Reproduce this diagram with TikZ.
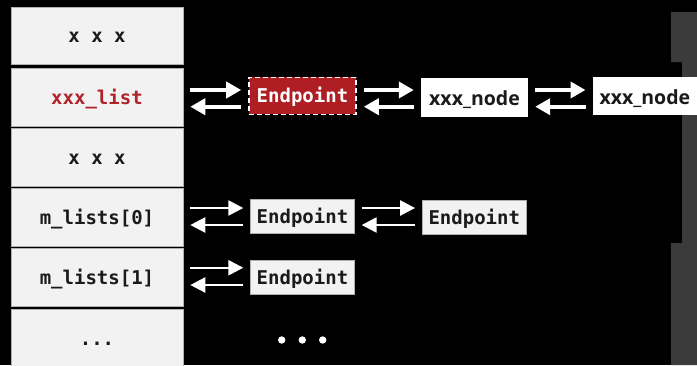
\documentclass[tikz,border=0pt]{standalone}
\usepackage{fontspec}
\setmonofont{DejaVu Sans Mono}
\newfontfamily\labelsans{Open Sans}
\usetikzlibrary{arrows.meta,calc}

\definecolor{cellfill}{HTML}{F2F2F2}
\definecolor{cellline}{HTML}{B0B0B0}
\definecolor{listred}{HTML}{B0232A}
\definecolor{epred}{HTML}{AE1E23}
\definecolor{sidebar}{HTML}{3B3B3B}
\definecolor{ink}{HTML}{1A1A1A}

% two opposite arrows between neighbouring nodes
% #1 source, #2 target, #3 upper offset, #4 lower offset, #5 style
\newcommand\linkpair[5]{%
  \draw[#5] ($(#1.east)+(7,#3)$) -- ($(#2.west |- #1.east)+(-7,#3)$);
  \draw[#5] ($(#2.west |- #1.east)+(-7,#4)$) -- ($(#1.east)+(7,#4)$);
}

\begin{document}
\begin{tikzpicture}[x=1pt,y=-1pt,
  monotext/.style={font=\ttfamily\bfseries\fontsize{19}{19}\selectfont,
    text height=17pt, text depth=3pt, inner sep=0pt},
  cell/.style={monotext, minimum width=172pt, minimum height=57.5pt,
    fill=cellfill, draw=cellline, line width=0.6pt, text=ink},
  grayep/.style={monotext, minimum width=103.6pt, minimum height=34.3pt,
    fill=cellfill, draw=cellline, line width=0.8pt, text=ink},
  redep/.style={monotext, minimum width=107pt, minimum height=37pt,
    fill=epred, draw=white, line width=1.6pt, dash pattern=on 5pt off 3pt,
    text=white},
  listnode/.style={font=\labelsans\bfseries\fontsize{19.5}{19.5}\selectfont,
    text height=19pt, text depth=3pt, inner sep=0pt,
    fill=white, text=ink, minimum height=39pt},
  fat/.style={white, line width=4pt, -{Triangle[length=15pt,width=16pt]}},
  slim/.style={white, line width=2.4pt, -{Triangle[length=15pt,width=15pt]}}]

  % canvas
  \fill[black] (0,0) rectangle (697,365);
  \useasboundingbox (0,0) rectangle (697,365);

  % stepped side panel
  \fill[sidebar] (671,12) -- (697,12) -- (697,365) -- (671,365) -- (671,243)
    -- (682,243) -- (682,62) -- (671,62) -- cycle;

  % table of lists
  \node[cell] (r1) at (97,35.75)  {x x x};
  \node[cell, text=listred] (r2) at (97,97.25) {xxx\_list};
  \node[cell] (r3) at (97,157.25) {x x x};
  \node[cell] (r4) at (97,217.25) {m\_lists[0]};
  \node[cell] (r5) at (97,277.25) {m\_lists[1]};
  \node[cell] (r6) at (97,338.25) {...};

  % endpoints and list nodes
  \node[redep] (ep0) at (302.5,95.8) {Endpoint};
  \node[listnode, minimum width=107pt] (n1) at (474.5,97) {xxx\_node};
  \node[listnode, minimum width=104.3pt, minimum height=38pt] (n2) at (644.85,96) {xxx\_node};

  \node[grayep] (ep1) at (302.5,216.2) {Endpoint};
  \node[grayep] (ep2) at (474.3,217.2) {Endpoint};
  \node[grayep] (ep3) at (302.5,277.5) {Endpoint};

  % links
  \linkpair{r2}{ep0}{-7.25}{9.45}{fat}
  \linkpair{ep0}{n1}{-5.8}{10.9}{fat}
  \linkpair{n1}{n2}{-7}{9.7}{fat}
  \linkpair{r4}{ep1}{-9.25}{7.75}{slim}
  \linkpair{ep1}{ep2}{-8.2}{8.8}{slim}
  \linkpair{r5}{ep3}{-9.5}{7.75}{slim}

  % continuation marks
  \foreach \dx in {281.7,302.3,322.7}
    \fill[white] (\dx,340) circle[radius=3.7pt];
\end{tikzpicture}
\end{document}
